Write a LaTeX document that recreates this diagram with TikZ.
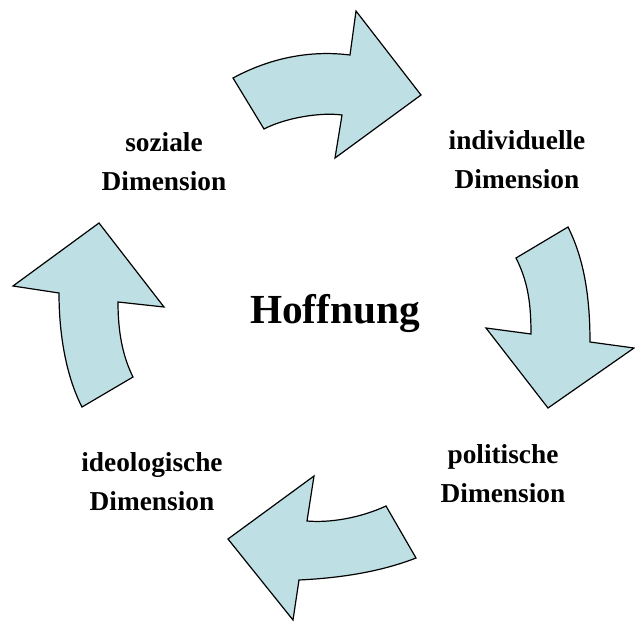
\documentclass[tikz,border=0pt]{standalone}
\usepackage{fontspec}
\setmainfont{Liberation Serif}
\definecolor{arrowfill}{RGB}{190,224,228}
\tikzset{
  cyclearrow/.style={draw=black, fill=arrowfill, line width=0.9pt, line join=miter},
  dimlabel/.style={font=\bfseries\fontsize{20.5}{28.7}\selectfont, align=center, anchor=base, inner sep=0pt},
  centerlabel/.style={font=\bfseries\fontsize{31}{36}\selectfont, anchor=base, inner sep=0pt}
}
\begin{document}
\begin{tikzpicture}[x=0.75pt,y=-0.75pt]
\useasboundingbox (0,0) rectangle (635,621);
% top arrow
\draw[cyclearrow] (233,78) .. controls (270,58) and (310,50) .. (350,55)
  -- (356,11) -- (421,95) -- (335,158) -- (342,115)
  .. controls (320,112) and (285,118) .. (264,129) -- cycle;
% right arrow
\draw[cyclearrow] (516,258) -- (568,227)
  .. controls (582,255) and (590,290) .. (590,342)
  -- (634,348) -- (548,408) -- (486,328) -- (531,334)
  .. controls (531,300) and (527,280) .. (516,258) -- cycle;
% bottom arrow
\draw[cyclearrow] (386,506) -- (416,558)
  .. controls (380,572) and (340,578) .. (299,580)
  -- (293,620) -- (228,539) -- (314,476) -- (307,521)
  .. controls (330,523) and (360,518) .. (386,506) -- cycle;
% left arrow
\draw[cyclearrow] (99,223) -- (164,307) -- (118,302)
  .. controls (118,330) and (122,355) .. (133,377)
  -- (82,407)
  .. controls (68,380) and (59,340) .. (59,293)
  -- (13,286) -- cycle;
% labels (base anchor = baseline of last line)
\node[centerlabel] (hope) at (335,323) {Hoffnung};
\node[dimlabel] (social) at (164,190) {soziale\\Dimension};
\node[dimlabel] (indiv) at (517,188) {individuelle\\Dimension};
\node[dimlabel] (polit) at (503,502) {politische\\Dimension};
\node[dimlabel] (ideol) at (152,510) {ideologische\\Dimension};
\end{tikzpicture}
\end{document}
